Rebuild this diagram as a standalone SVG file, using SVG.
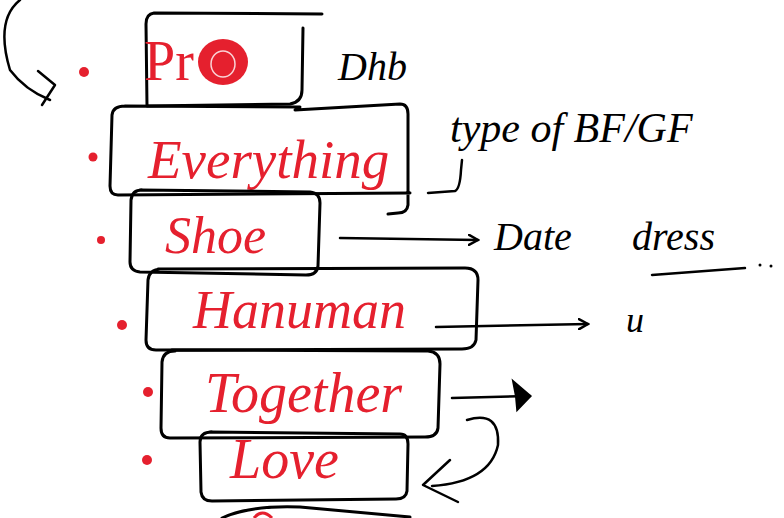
<svg xmlns="http://www.w3.org/2000/svg" width="784" height="518" viewBox="0 0 784 518">
<style>
.box{fill:none;stroke:#000;stroke-width:3;stroke-linecap:round;stroke-linejoin:round}
.ln{fill:none;stroke:#000;stroke-width:2.5;stroke-linecap:round;stroke-linejoin:round}
.rt{fill:#e5202e;font-family:"Liberation Serif",serif;font-style:italic}
.bt{fill:#000;font-family:"Liberation Serif",serif;font-style:italic}
.dot{fill:#e5202e}
</style>
<defs>
<marker id="open" markerWidth="12" markerHeight="12" refX="10" refY="6" orient="auto" markerUnits="userSpaceOnUse">
<path d="M1,1 L10,6 L1,11" fill="none" stroke="#000" stroke-width="2.5" stroke-linecap="round"/>
</marker>
<marker id="fill" markerWidth="24" markerHeight="40" refX="20" refY="20" orient="auto" markerUnits="userSpaceOnUse">
<path d="M2,2 L22,20 L6,36 L5,20 Z" fill="#000"/>
</marker>
</defs>
<rect width="784" height="518" fill="#fff"/>
<g id="dots">
<circle class="dot" cx="84" cy="72" r="5"/>
<circle class="dot" cx="93" cy="157" r="4.5"/>
<circle class="dot" cx="101" cy="240" r="4"/>
<circle class="dot" cx="122" cy="325" r="5"/>
<circle class="dot" cx="148" cy="392" r="5"/>
<circle class="dot" cx="147" cy="460" r="5"/>
</g>
<g id="n-pro">
<path class="box" d="M322,14 L154,13 Q146,14 146,24 L147,106 L290,104 Q302,102 302,90 L303,28"/>
<text class="rt" x="144" y="80" font-size="56" style="font-style:normal">Pr</text>
<ellipse cx="223" cy="62" rx="25" ry="23" fill="#e5202e"/>
<ellipse cx="223" cy="64" rx="12" ry="13" fill="none" stroke="#fff" stroke-width="1.5" opacity="0.8"/>
</g>
<g id="n-everything">
<path class="box" d="M125,106 L300,107 M295,110 L400,104 Q408,104 408,114 L408,205 Q407,213 398,213 L388,214 M410,193 L118,195 Q110,195 110,186 L112,115 Q113,106 125,106"/>
<text class="rt" x="148" y="178" font-size="55">Everything</text>
</g>
<g id="n-shoe">
<path class="box" d="M140,190 L310,192 Q320,193 320,203 L318,266 Q317,275 306,275 L140,272 Q130,271 130,262 L131,200 Q132,190 142,190"/>
<text class="rt" x="165" y="253" font-size="52">Shoe</text>
</g>
<g id="n-hanuman">
<path class="box" d="M158,269 L465,268 Q478,268 478,280 L476,340 Q474,349 462,349 L156,350 Q146,350 146,340 L148,280 Q149,270 160,269"/>
<text class="rt" x="193" y="328" font-size="54">Hanuman</text>
</g>
<g id="n-together">
<path class="box" d="M172,350 L428,351 Q440,352 440,364 L438,428 Q437,437 425,437 L170,438 Q161,438 161,428 L162,362 Q163,351 175,351"/>
<text class="rt" x="205" y="412" font-size="56">Together</text>
</g>
<g id="n-love">
<path class="box" d="M210,432 L400,434 Q408,434 408,444 L407,491 Q406,499 396,499 L212,501 Q202,501 201,492 L200,442 Q200,432 212,432"/>
<text class="rt" x="230" y="478" font-size="56">Love</text>
</g>
<g id="n-next">
<path class="box" d="M222,518 Q250,505 300,507 L410,517"/>
<path d="M254,518 Q262,508 272,518" fill="none" stroke="#e5202e" stroke-width="3"/>
</g>
<g id="labels">
<text class="bt" x="338" y="80" font-size="40">Dhb</text>
<text class="bt" x="450" y="142" font-size="42">type of BF/GF</text>
<text class="bt" x="494" y="250" font-size="40">Date</text>
<text class="bt" x="632" y="250" font-size="40">dress</text>
<text class="bt" x="626" y="332" font-size="36">u</text>
</g>
<g id="connectors">
<path class="ln" d="M20,0 Q-5,20 10,70 Q25,90 50,100" fill="none"/>
<path class="ln" d="M38,71 L55,85 L42,105"/>
<path class="ln" d="M428,193 L455,191 Q460,189 461,170 L462,160"/>
<path class="ln" d="M340,238 L478,240" marker-end="url(#open)"/>
<path class="ln" d="M436,327 L588,324" marker-end="url(#open)"/>
<path class="ln" d="M452,398 L530,396" marker-end="url(#fill)"/>
<path class="ln" d="M467,420 Q500,410 498,445 Q490,482 432,486"/>
<path class="ln" d="M450,460 L423,485 L458,502"/>
<path class="ln" d="M652,275 L745,268"/>
<circle cx="760" cy="265" r="1.5" fill="#000"/>
<circle cx="771" cy="266" r="1.5" fill="#000"/>
</g>
</svg>
